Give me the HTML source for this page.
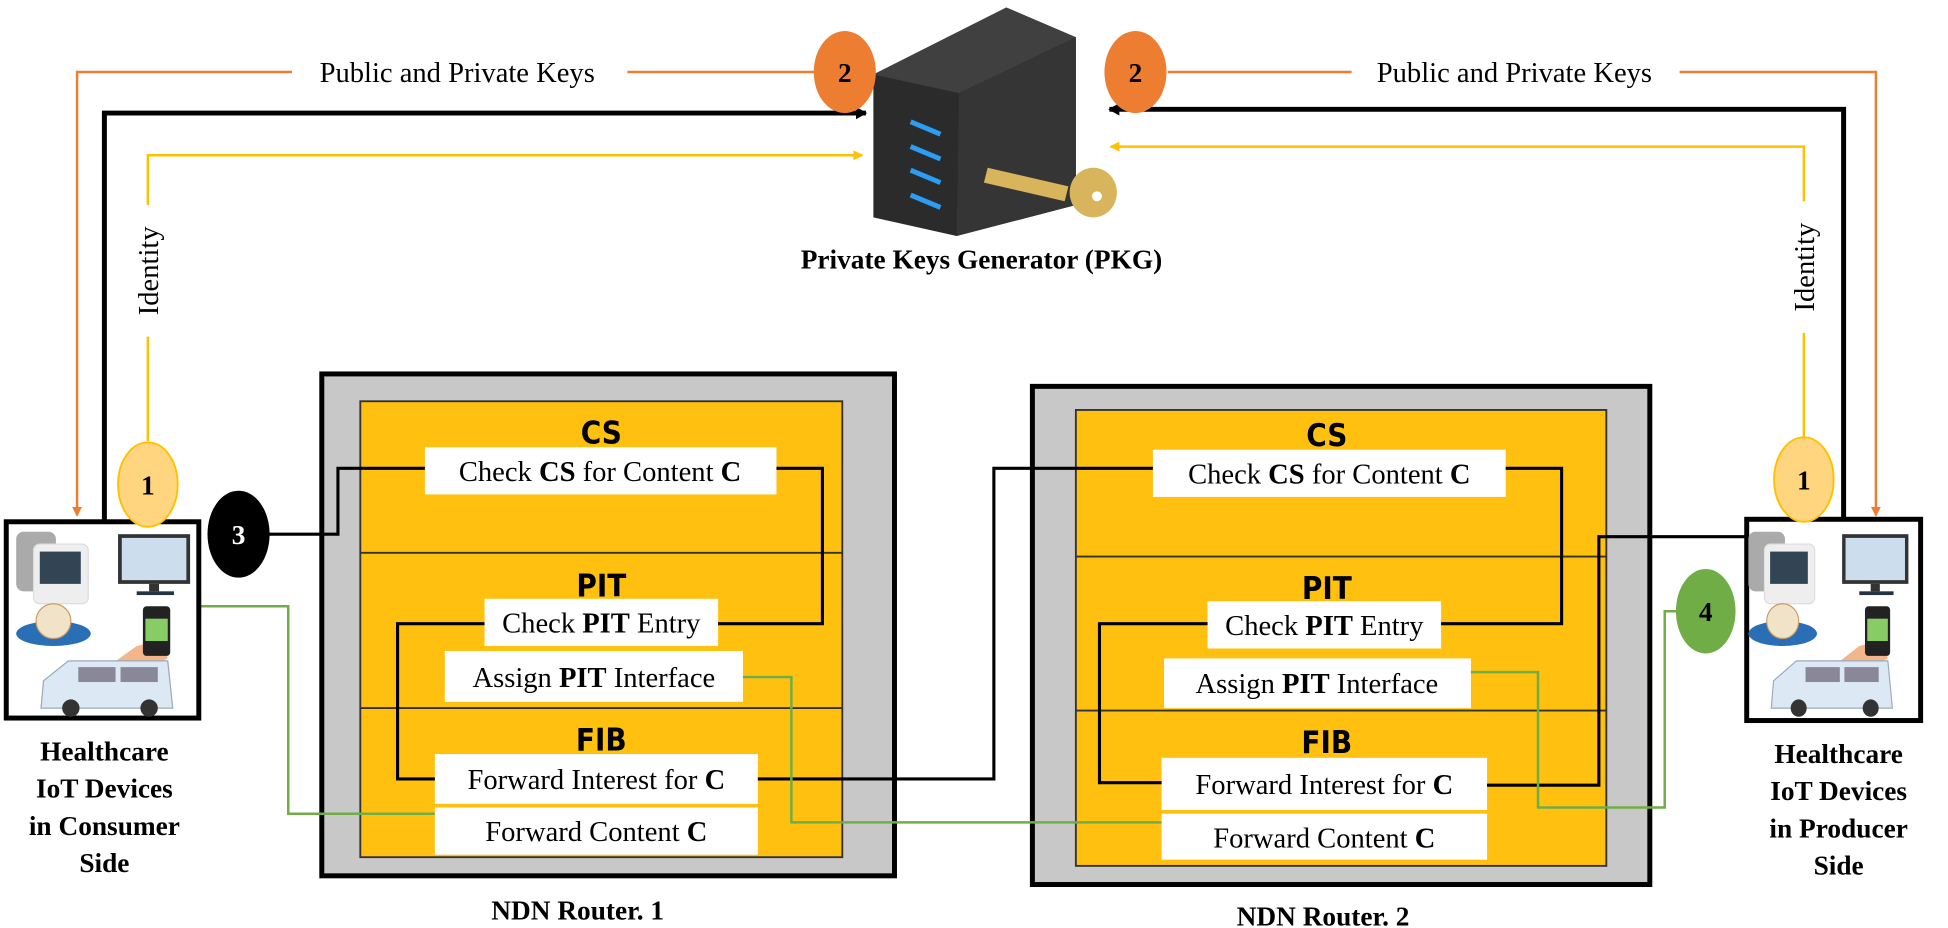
<!DOCTYPE html>
<html><head><meta charset="utf-8"><style>
html,body{margin:0;padding:0;background:#fff;}
svg{display:block;}
.t{font-family:"Liberation Serif",serif;font-size:23px;fill:#000;}
.h{font-family:"DejaVu Sans Condensed","Liberation Sans",sans-serif;font-weight:bold;font-size:25px;fill:#000;}
.b{font-family:"Liberation Serif",serif;font-weight:bold;font-size:22px;fill:#000;}
</style></head><body>
<svg width="1948" height="928" viewBox="0 0 1568 747" xmlns="http://www.w3.org/2000/svg">
<defs>
<marker id="ab" markerWidth="9" markerHeight="10" refX="8" refY="5" orient="auto" markerUnits="userSpaceOnUse"><path d="M0,0 L9,5 L0,10 Z" fill="#000"/></marker>
<marker id="ao" markerWidth="8" markerHeight="8" refX="7" refY="4" orient="auto" markerUnits="userSpaceOnUse"><path d="M0,0 L8,4 L0,8 Z" fill="#ed7d31"/></marker>
<marker id="ay" markerWidth="8" markerHeight="8" refX="7" refY="4" orient="auto" markerUnits="userSpaceOnUse"><path d="M0,0 L8,4 L0,8 Z" fill="#ffc000"/></marker>
<g id="dev">
 <rect x="8" y="8" width="32" height="48" rx="6" fill="#aaa"/>
 <rect x="22" y="18" width="44" height="48" rx="5" fill="#eee" stroke="#ddd"/>
 <rect x="27" y="24" width="33" height="26" fill="#345"/>
 <rect x="90" y="10" width="58" height="40" fill="#333"/>
 <rect x="93" y="13" width="52" height="34" fill="#cde"/>
 <rect x="115" y="50" width="8" height="6" fill="#333"/><rect x="105" y="56" width="30" height="3" fill="#234"/>
 <ellipse cx="38" cy="90" rx="30" ry="10" fill="#2a6fb5"/>
 <circle cx="38" cy="80" r="14" fill="#f1e3c8" stroke="#c96"/>
 <path d="M80 118 L105 100 L125 95 L130 110 L100 125 Z" fill="#f5b58a"/>
 <path d="M70 120 L88 112 L95 124 L78 132 Z" fill="#777"/>
 <rect x="110" y="68" width="22" height="40" rx="3" fill="#222"/>
 <rect x="112" y="78" width="18" height="18" fill="#8c6"/>
 <path d="M28 150 L30 128 L50 112 L130 112 L134 150 Z" fill="#dde8f5" stroke="#9ab"/>
 <rect x="58" y="117" width="30" height="12" fill="#889"/><rect x="92" y="117" width="30" height="12" fill="#889"/>
 <circle cx="52" cy="150" r="7" fill="#333"/><circle cx="115" cy="150" r="7" fill="#333"/>
</g>
</defs>

<!-- server -->
<path d="M703 60 L810 6 L866 30 L866 165 L770 190 L703 175 Z" fill="#2b2b2b"/>
<path d="M703 60 L810 6 L866 30 L772 75 Z" fill="#404040"/>
<path d="M772 75 L866 30 L866 165 L770 190 Z" fill="#353535"/>
<g stroke="#2a9df4" stroke-width="4"><line x1="733" y1="98" x2="757" y2="108"/><line x1="733" y1="118" x2="757" y2="128"/><line x1="733" y1="137" x2="757" y2="147"/><line x1="733" y1="157" x2="757" y2="167"/></g>
<g fill="#d8b45c"><path d="M795 135 L860 150 L857 162 L792 147 Z"/><ellipse cx="880" cy="155" rx="19" ry="20"/></g>
<circle cx="883" cy="158" r="4" fill="#fff"/>
<text x="790" y="216" class="b" text-anchor="middle" font-size="27">Private Keys Generator (PKG)</text>

<!-- top connectors left -->
<polyline points="498,58 62,58 62,415" fill="none" stroke="#ed7d31" stroke-width="2" marker-end="url(#ao)"/>
<line x1="505" y1="58" x2="656" y2="58" stroke="#ed7d31" stroke-width="2"/>
<rect x="235" y="42" width="266" height="30" fill="#fff"/>
<text x="368" y="66" class="t" text-anchor="middle" font-size="25">Public and Private Keys</text>
<polyline points="84,420 84,91 697,91" fill="none" stroke="#000" stroke-width="4" marker-end="url(#ab)"/>
<polyline points="119,355 119,125 694,125" fill="none" stroke="#ffc000" stroke-width="2" marker-end="url(#ay)"/>
<rect x="102" y="165" width="34" height="106" fill="#fff"/>
<text class="t" font-size="23" transform="translate(127,218) rotate(-90)" text-anchor="middle">Identity</text>
<!-- top connectors right -->
<line x1="940" y1="58" x2="1088" y2="58" stroke="#ed7d31" stroke-width="2"/>
<polyline points="1352,58 1510,58 1510,415" fill="none" stroke="#ed7d31" stroke-width="2" marker-end="url(#ao)"/>
<text x="1219" y="66" class="t" text-anchor="middle" font-size="25">Public and Private Keys</text>
<polyline points="1484,418 1484,88 893,88" fill="none" stroke="#000" stroke-width="4" marker-end="url(#ab)"/>
<polyline points="1452,352 1452,118 894,118" fill="none" stroke="#ffc000" stroke-width="2" marker-end="url(#ay)"/>
<rect x="1435" y="162" width="34" height="106" fill="#fff"/>
<text class="t" font-size="23" transform="translate(1460,215) rotate(-90)" text-anchor="middle">Identity</text>

<ellipse cx="680" cy="58" rx="25" ry="33" fill="#ed7d31"/><text x="680" y="66" class="b" text-anchor="middle">2</text>
<ellipse cx="914" cy="58" rx="25" ry="33" fill="#ed7d31"/><text x="914" y="66" class="b" text-anchor="middle">2</text>

<!-- router 1 -->
<rect x="259" y="301" width="461" height="404" fill="#c8c8c8" stroke="#000" stroke-width="4"/>
<rect x="290" y="323" width="388" height="367" fill="#ffc010" stroke="#333" stroke-width="1.5"/>
<line x1="290" y1="445" x2="678" y2="445" stroke="#333" stroke-width="1.5"/>
<line x1="290" y1="570" x2="678" y2="570" stroke="#333" stroke-width="1.5"/>
<text x="484" y="357" class="h" text-anchor="middle">CS</text>
<text x="484" y="480" class="h" text-anchor="middle">PIT</text>
<text x="484" y="604" class="h" text-anchor="middle">FIB</text>
<g fill="#fff"><rect x="342" y="360" width="283" height="38"/><rect x="390" y="482" width="188" height="38"/><rect x="358" y="524" width="240" height="41"/><rect x="350" y="607" width="260" height="40"/><rect x="350" y="650" width="260" height="38"/></g>
<text x="483" y="387" class="t" text-anchor="middle">Check <tspan font-weight="bold">CS</tspan> for Content <tspan font-weight="bold">C</tspan></text>
<text x="484" y="509" class="t" text-anchor="middle">Check <tspan font-weight="bold">PIT</tspan> Entry</text>
<text x="478" y="553" class="t" text-anchor="middle">Assign <tspan font-weight="bold">PIT</tspan> Interface</text>
<text x="480" y="635" class="t" text-anchor="middle">Forward Interest for <tspan font-weight="bold">C</tspan></text>
<text x="480" y="677" class="t" text-anchor="middle">Forward Content <tspan font-weight="bold">C</tspan></text>
<text x="465" y="740" class="b" text-anchor="middle" font-size="24">NDN Router. 1</text>

<!-- router 2 -->
<rect x="831" y="311" width="497" height="401" fill="#c8c8c8" stroke="#000" stroke-width="4"/>
<rect x="866" y="330" width="427" height="367" fill="#ffc010" stroke="#333" stroke-width="1.5"/>
<line x1="866" y1="448" x2="1293" y2="448" stroke="#333" stroke-width="1.5"/>
<line x1="866" y1="572" x2="1293" y2="572" stroke="#333" stroke-width="1.5"/>
<text x="1068" y="359" class="h" text-anchor="middle">CS</text>
<text x="1068" y="482" class="h" text-anchor="middle">PIT</text>
<text x="1068" y="606" class="h" text-anchor="middle">FIB</text>
<g fill="#fff"><rect x="928" y="362" width="284" height="38"/><rect x="972" y="484" width="188" height="38"/><rect x="937" y="530" width="247" height="40"/><rect x="935" y="610" width="262" height="42"/><rect x="935" y="655" width="262" height="37"/></g>
<text x="1070" y="389" class="t" text-anchor="middle">Check <tspan font-weight="bold">CS</tspan> for Content <tspan font-weight="bold">C</tspan></text>
<text x="1066" y="511" class="t" text-anchor="middle">Check <tspan font-weight="bold">PIT</tspan> Entry</text>
<text x="1060" y="558" class="t" text-anchor="middle">Assign <tspan font-weight="bold">PIT</tspan> Interface</text>
<text x="1066" y="639" class="t" text-anchor="middle">Forward Interest for <tspan font-weight="bold">C</tspan></text>
<text x="1066" y="682" class="t" text-anchor="middle">Forward Content <tspan font-weight="bold">C</tspan></text>
<text x="1065" y="745" class="b" text-anchor="middle" font-size="24">NDN Router. 2</text>

<!-- black flow lines -->
<g fill="none" stroke="#000" stroke-width="2.5">
<polyline points="214,430 272,430 272,377 342,377"/>
<polyline points="625,377 662,377 662,502 578,502"/>
<polyline points="390,502 320,502 320,627 350,627"/>
<polyline points="610,627 800,627 800,377 928,377"/>
<polyline points="1212,377 1257,377 1257,502 1160,502"/>
<polyline points="972,502 885,502 885,630 935,630"/>
<polyline points="1197,632 1287,632 1287,432 1406,432"/>
</g>
<!-- green lines -->
<g fill="none" stroke="#70ad47" stroke-width="2">
<polyline points="160,488 232,488 232,655 350,655"/>
<polyline points="598,545 637,545 637,662 935,662"/>
<polyline points="1184,541 1238,541 1238,650 1340,650 1340,492 1350,492"/>
</g>

<!-- devices -->
<rect x="5" y="420" width="155" height="158" fill="#fff" stroke="#000" stroke-width="4"/>
<use href="#dev" x="5" y="420"/>
<rect x="1406" y="418" width="140" height="162" fill="#fff" stroke="#000" stroke-width="4"/>
<use href="#dev" transform="translate(1400,420) scale(0.92,1)"/>

<ellipse cx="119" cy="390" rx="24" ry="34" fill="#ffd580" stroke="#ffc000" stroke-width="1.5"/><text x="119" y="398" class="b" text-anchor="middle">1</text>
<ellipse cx="1452" cy="386" rx="24" ry="34" fill="#ffd580" stroke="#ffc000" stroke-width="1.5"/><text x="1452" y="394" class="b" text-anchor="middle">1</text>
<ellipse cx="192" cy="430" rx="25" ry="35" fill="#000"/><text x="192" y="438" class="b" text-anchor="middle" style="fill:#fff">3</text>
<ellipse cx="1373" cy="492" rx="24" ry="34" fill="#70ad47"/><text x="1373" y="500" class="b" text-anchor="middle">4</text>

<g class="b" text-anchor="middle" font-size="24">
<text x="84" y="612">Healthcare</text><text x="84" y="642">IoT Devices</text><text x="84" y="672">in Consumer</text><text x="84" y="702">Side</text>
<text x="1480" y="614">Healthcare</text><text x="1480" y="644">IoT Devices</text><text x="1480" y="674">in Producer</text><text x="1480" y="704">Side</text>
</g>
</svg>
</body></html>
